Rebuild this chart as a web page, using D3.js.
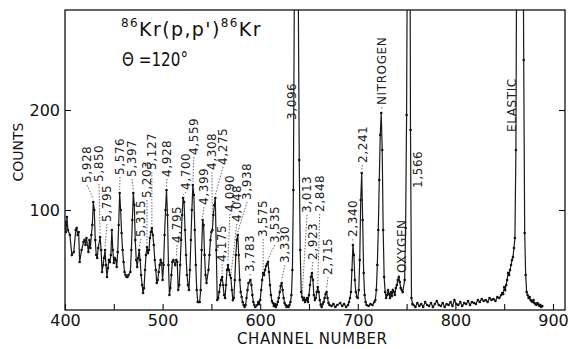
<!DOCTYPE html>
<html>
<head>
<meta charset="utf-8">
<script src="https://cdn.jsdelivr.net/npm/d3@7"></script>
<style>
  html, body { margin: 0; padding: 0; background: #fff; }
  svg { display: block; }
  text { font-family: "DejaVu Sans", sans-serif; fill: #111; }
</style>
</head>
<body>
<svg id="chart" width="572" height="349"></svg>
<script>
// spectrum (channel -> counts)
const channels = [
  400,401,402,403,405,407,409,411,412,413,414,415,417,419,420,421,422,424,425,426,427,428,429,430,431,432,433,434,436,437,438,439,
  440,441,442,443,444,445,446,447,448,449,450,451,452,453,454,455,456,457,458,459,460,461,462,463,464,465,467,468,469,470,471,472,
  473,474,475,476,477,478,479,480,481,482,483,484,485,486,487,488,489,490,491,492,493,494,495,496,497,498,499,500,501,502,503,504,
  505,506,507,508,509,510,511,513,514,515,516,517,518,519,520,521,522,523,524,525,526,527,528,529,530,531,532,533,534,535,536,537,
  538,539,540,541,542,543,544,545,547,548,549,550,551,552,553,554,555,556,557,558,559,560,561,562,563,564,565,566,567,568,569,570,
  571,572,573,574,575,576,577,578,579,580,581,582,583,584,585,586,587,588,590,591,592,593,594,595,597,598,599,600,601,602,603,604,
  605,606,607,608,609,610,611,612,613,614,615,616,617,618,619,620,621,622,623,624,625,626,627,628,629,630,631,632,633,634,635,636,
  637,638,639,640,641,642,643,644,645,646,647,648,649,650,651,652,653,654,655,656,657,658,659,660,661,662,663,664,665,666,667,668,
  669,670,671,673,675,677,679,682,684,686,688,690,691,692,693,694,695,696,697,698,699,700,701,702,703,704,705,706,707,708,709,711,
  713,715,717,718,719,720,721,722,723,724,725,726,727,728,729,730,731,732,733,734,735,736,737,738,739,740,741,742,743,744,745,746,
  748,749,750,751,752,753,754,755,756,757,759,761,763,765,767,769,771,773,775,777,779,781,783,785,787,789,791,793,795,797,799,801,
  803,805,807,809,811,813,815,817,819,821,823,825,827,829,831,833,835,837,839,841,843,845,847,848,849,850,851,852,853,854,855,856,
  857,858,859,860,861,862,863,864,865,866,867,868,869,870,871,872,873,874,875,876,877,878,879,880,881,882,883,884,885,886,887,888,889
];
const counts = [
  88,78,93,80,75,55,58,80,82,75,78,48,60,68,70,65,72,58,70,62,75,85,108,100,70,55,52,62,73,60,38,45,
  52,60,45,33,42,50,48,55,80,60,47,52,50,43,58,85,117,100,77,60,48,38,35,33,33,35,38,60,90,117,105,70,
  50,43,52,60,50,35,25,17,22,40,55,63,57,60,72,78,82,75,65,50,40,27,30,38,45,50,47,30,45,75,100,120,
  95,45,15,22,35,48,50,45,50,48,20,25,45,70,95,112,108,80,55,35,25,20,40,70,100,125,115,80,45,20,8,8,
  8,20,60,90,85,55,35,27,40,55,70,78,80,95,105,112,60,10,12,18,25,30,33,25,15,12,25,40,45,40,35,32,
  20,10,12,30,55,70,75,55,30,18,13,8,5,3,5,12,20,27,30,25,15,8,5,3,5,8,6,10,20,30,37,35,
  40,44,46,48,38,25,15,9,7,4,6,3,5,8,12,18,24,27,20,12,7,5,3,4,3,5,8,15,40,120,320,520,
  640,540,320,150,60,18,13,10,12,8,10,12,8,15,25,33,37,30,15,10,12,18,23,18,10,5,3,6,8,12,16,18,
  12,7,5,4,6,3,5,7,4,6,3,5,8,12,18,40,65,55,30,18,13,12,20,50,110,137,90,37,15,8,5,4,
  6,5,8,10,20,45,80,130,175,197,160,80,33,18,12,15,20,16,12,18,14,20,18,15,22,25,30,33,28,22,20,18,
  30,82,195,420,620,560,180,12,6,5,3,7,4,6,3,8,5,4,7,3,6,9,5,4,7,3,6,5,8,4,10,6,
  5,8,4,7,6,9,5,8,7,6,10,8,11,9,10,8,12,10,11,9,13,12,15,17,16,23,20,25,30,37,35,40,
  45,50,53,62,72,160,420,700,800,760,700,560,480,250,77,35,18,15,12,13,10,9,8,10,7,6,5,7,6,4,5,3,4
];

const xTicks = [400, 500, 600, 700, 800, 900];
const xMinorTicks = [450, 550, 650, 750, 850];
const yTicks = [100, 200];

// peak annotations
const peakLabels = ['5,928','5,850','5,795','5,576','5,397','5,315','5,203','5,127','4,928','4,795','4,700','4,559',
  '4,399','4,308','4,275','4,175','4,090','4,048','3,938','3,783','3,575','3,535','3,330','3,096','3,013','2,923',
  '2,848','2,715','2,340','2,241','NITROGEN','OXYGEN','1,566','ELASTIC'];
const peakChannels = [429,436,441,456,470,476,484,489,504,514,521,531,541,551,554,561,567,570,577,590,603,608,622,637,
  643,653,659,668,695,704,724,742,753,866];
// where each label sits (channel of its centre, count level of its lower end)
const labelX = [422.5,434.8,443,456.4,468.6,477.9,484,489,504.5,514.8,524,532,542.4,550.6,562,561,569,576,586.5,589.5,
  603,615,625.4,632.6,648,654,661,669.5,695,705,724.8,745,761.7,858];
const labelBase = [127,128,88,135,133,73,112,140,133,67,120,155,105,140,145,48,98,88,110,38,73,67,47,190,97,50,98,35,
  73,147,205,37,122,178];

const svg = d3.select('#chart');
const x = d3.scaleLinear().domain([400, 912.3]).range([65, 565]);
const y = d3.scaleLinear().domain([0, 300]).range([310, 10]);

svg.append('defs').append('clipPath').attr('id', 'plot')
  .append('rect').attr('x', 65).attr('y', 10).attr('width', 500).attr('height', 300);

// frame
svg.append('rect')
  .attr('x', 65).attr('y', 10).attr('width', 500).attr('height', 300)
  .attr('fill', 'none').attr('stroke', '#111').attr('stroke-width', 1.3);

// axes, ticks pointing inwards
const xAxis = svg.append('g').attr('transform', 'translate(0,310)')
  .call(d3.axisBottom(x).tickValues(xTicks).tickSize(-6).tickPadding(5).tickFormat(d3.format('d')));
xAxis.select('.domain').remove();
xAxis.selectAll('text').style('font-size', '16px');

const xMinor = svg.append('g').attr('transform', 'translate(0,310)')
  .call(d3.axisBottom(x).tickValues(xMinorTicks).tickSize(-6).tickFormat(''));
xMinor.select('.domain').remove();

const yAxis = svg.append('g').attr('transform', 'translate(65,0)')
  .call(d3.axisLeft(y).tickValues(yTicks).tickSize(-6).tickPadding(5));
yAxis.select('.domain').remove();
yAxis.selectAll('text').style('font-size', '16px');

const yRight = svg.append('g').attr('transform', 'translate(565,0)')
  .call(d3.axisRight(y).tickValues(yTicks).tickSize(-6).tickFormat(''));
yRight.select('.domain').remove();

svg.selectAll('.tick line').attr('stroke', '#111').attr('stroke-width', 1.1);

// axis titles
svg.append('text')
  .attr('x', 312).attr('y', 344)
  .attr('text-anchor', 'middle')
  .attr('textLength', 150)
  .attr('lengthAdjust', 'spacing')
  .style('font-size', '15px')
  .text('CHANNEL NUMBER');

svg.append('text')
  .attr('transform', 'translate(23,152) rotate(-90)')
  .attr('text-anchor', 'middle')
  .style('font-size', '14px')
  .text('COUNTS');

// reaction title
const title = svg.append('text').attr('x', 121).attr('y', 36).style('font-size', '19px').style('letter-spacing', '1.4px');
title.append('tspan').style('font-size', '12px').attr('dy', -9).text('86');
title.append('tspan').attr('dy', 9).text("Kr(p,p')");
title.append('tspan').style('font-size', '12px').attr('dy', -9).text('86');
title.append('tspan').attr('dy', 9).text('Kr');

svg.append('text')
  .attr('x', 122).attr('y', 66)
  .attr('textLength', 66)
  .attr('lengthAdjust', 'spacingAndGlyphs')
  .style('font-size', '19px')
  .text('\u0398 =120\u00b0');

// spectrum
const pts = channels.map((c, i) => [c, counts[i]]);
const plot = svg.append('g').attr('clip-path', 'url(#plot)');

plot.append('path')
  .datum(pts)
  .attr('d', d3.line().x(d => x(d[0])).y(d => y(d[1])))
  .attr('fill', 'none')
  .attr('stroke', '#1a1a1a')
  .attr('stroke-width', 1.2);

plot.selectAll('circle')
  .data(pts)
  .enter()
  .append('circle')
  .attr('cx', d => x(d[0]))
  .attr('cy', d => y(d[1]))
  .attr('r', 1.3)
  .attr('fill', '#111');

// peak labels with dotted leaders
const countAt = c => {
  const i = d3.bisectLeft(channels, c);
  return counts[Math.min(i, counts.length - 1)];
};

peakLabels.forEach((lab, i) => {
  const peak = countAt(peakChannels[i]);
  if (peak < 290 && labelBase[i] > peak + 4) {
    svg.append('line')
      .attr('x1', x(labelX[i])).attr('y1', y(labelBase[i]) + 2)
      .attr('x2', x(peakChannels[i])).attr('y2', y(peak) - 3)
      .attr('stroke', '#444')
      .attr('stroke-width', 0.8)
      .attr('stroke-dasharray', '1.5,1.5');
  }
  svg.append('text')
    .attr('transform', `translate(${x(labelX[i])},${y(labelBase[i])}) rotate(-90)`)
    .attr('dy', '0.35em')
    .style('font-size', '12px')
    .style('letter-spacing', '0.6px')
    .style('fill', '#222')
    .text(lab);
});
</script>
</body>
</html>
